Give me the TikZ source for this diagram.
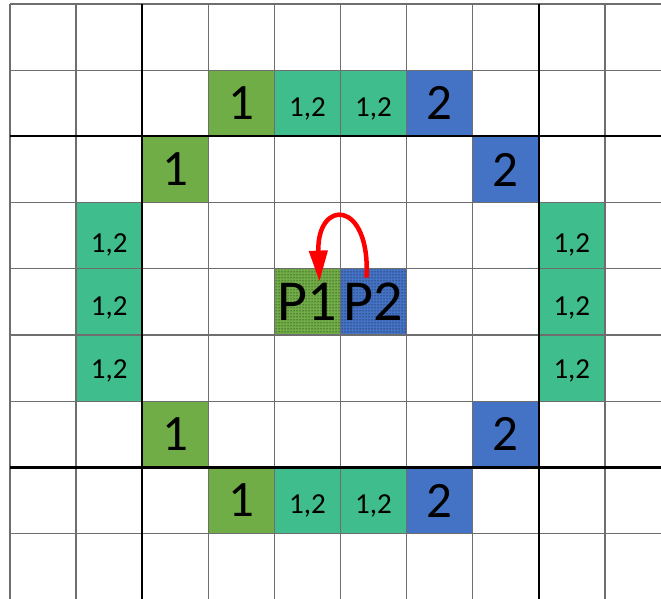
\documentclass[tikz,border=0pt]{standalone}
\usepackage{fontspec}
\setmainfont{Carlito}
\usetikzlibrary{patterns,arrows.meta,calc}
\definecolor{cgreen}{RGB}{112,173,71}
\definecolor{cblue}{RGB}{68,114,196}
\definecolor{cteal}{RGB}{64,189,140}
\definecolor{cline}{RGB}{110,110,110}
\tikzset{
  cell/.style={minimum width=66.1pt,minimum height=66.2pt,inner sep=0pt,text depth=0pt},
  one/.style={cell,fill=cgreen,font=\fontsize{51}{51}\selectfont},
  two/.style={cell,fill=cblue,font=\fontsize{51}{51}\selectfont},
  both/.style={cell,fill=cteal,font=\fontsize{29}{29}\selectfont},
  pcell/.style={cell,postaction={pattern=dots,pattern color=black},font=\fontsize{58}{58}\selectfont},
  gridthin/.style={cline,line width=1.3pt},
  gridthick/.style={black,line width=2.2pt},
  swaparrow/.style={red,line width=4.5pt,-{Triangle[length=31pt,width=18pt]}}
}
\begin{document}
\begin{tikzpicture}[x=1pt,y=1pt,yscale=-1,xscale=1]
\useasboundingbox (0,0) rectangle (661,599);

%Cells: row 1
\node[one]  (r1c3) at (241.35,103.3) {1};
\node[both] (r1c4) at (307.45,103.3) {\raisebox{-8pt}{1,2}};
\node[both] (r1c5) at (373.55,103.3) {\raisebox{-8pt}{1,2}};
\node[two]  (r1c6) at (439.65,103.3) {2};
%Cells: row 2
\node[one] (r2c2) at (175.25,169.5) {1};
\node[two] (r2c7) at (505.75,169.5) {2};
%Cells: rows 3 to 5
\node[both] (r3c1) at (109.15,235.7) {\raisebox{-14pt}{1,2}};
\node[both] (r3c8) at (571.85,235.7) {\raisebox{-14pt}{1,2}};
\node[both] (r4c1) at (109.15,301.9) {\raisebox{-8pt}{1,2}};
\node[both] (r4c8) at (571.85,301.9) {\raisebox{-8pt}{1,2}};
\node[both] (r5c1) at (109.15,368.1) {\raisebox{-2pt}{1,2}};
\node[both] (r5c8) at (571.85,368.1) {\raisebox{-2pt}{1,2}};
%Cells: P1 and P2
\node[pcell,fill=cgreen] (p1) at (307.45,301.9) {\raisebox{1pt}{P1}};
\node[pcell,fill=cblue]  (p2) at (373.55,301.9) {\raisebox{1pt}{P2}};
%Cells: row 6
\node[one] (r6c2) at (175.25,434.3) {1};
\node[two] (r6c7) at (505.75,434.3) {2};
%Cells: row 7
\node[one]  (r7c3) at (241.35,500.5) {1};
\node[both] (r7c4) at (307.45,500.5) {\raisebox{-8pt}{1,2}};
\node[both] (r7c5) at (373.55,500.5) {\raisebox{-8pt}{1,2}};
\node[two]  (r7c6) at (439.65,500.5) {2};

%Grid
\foreach \i in {0,...,9}
  \draw[gridthin] ({10+66.1*\i},4) -- ({10+66.1*\i},599);
\foreach \j in {0,...,8}
  \draw[gridthin] (10,{4+66.2*\j}) -- (661,{4+66.2*\j});
\foreach \i in {2,8}
  \draw[gridthick] ({10+66.1*\i},4) -- ({10+66.1*\i},599);
\foreach \j in {2,7}
  \draw[gridthick] (10,{4+66.2*\j}) -- (661,{4+66.2*\j});

%Arrow P2 to P1
\draw[swaparrow] ($(p2.north)+(-7,9)$) .. controls ($(p2.north)+(-3,-70)$) and ($(p1.north)+(9,-70)$) .. ($(p1.north)+(12,13)$);
\end{tikzpicture}
\end{document}
